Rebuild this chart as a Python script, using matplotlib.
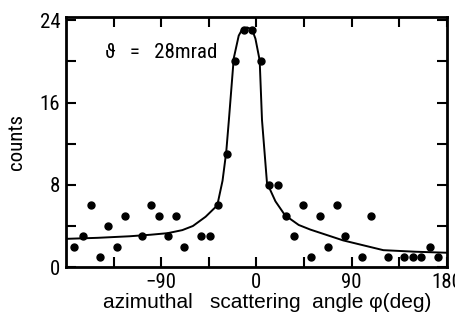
import numpy as np
import matplotlib
matplotlib.use("Agg")
import matplotlib.pyplot as plt
from matplotlib import font_manager

names = {f.name for f in font_manager.fontManager.ttflist}
narrow = [n for n in ['Roboto Condensed', 'DejaVu Sans Condensed', 'Liberation Sans Narrow'] if n in names]
plt.rcParams['font.family'] = narrow + ['DejaVu Sans']

# measured counts per azimuthal bin
phi = [-172, -164, -156, -148, -140, -132, -124, -108, -100, -92, -84, -76,
       -68, -52, -44, -36, -28, -20, -12, -4, 4, 12, 20, 28, 36, 44, 52, 60,
       68, 76, 84, 100, 108, 124, 140, 148, 156, 164, 172]
counts = [2, 3, 6, 1, 4, 2, 5, 3, 6, 5, 3, 5,
          2, 3, 3, 6, 11, 20, 23, 23, 20, 8, 8, 5, 3, 6, 1, 5,
          2, 6, 3, 1, 5, 1, 1, 1, 1, 2, 1]

# fitted curve
fit_phi = [-180, -150, -120, -100, -84, -70, -60, -48, -37, -32, -28.5, -26,
           -21.4, -16.7, -13.5, -8.8, -4.1, -0.9, 3.1, 5.3, 10, 18, 27, 40,
           51, 82, 120, 150, 180]
fit_counts = [2.75, 2.85, 3.0, 3.15, 3.3, 3.6, 4.0, 4.9, 6.0, 8.4, 11.2, 14.3,
              20.3, 22.5, 23.1, 23.3, 23.1, 22.2, 20.1, 14.3, 8.2, 6.4, 5.05, 4.1,
              3.65, 2.6, 1.65, 1.5, 1.4]

fig = plt.figure(figsize=(4.55, 3.29), dpi=100)
ax = fig.add_axes([0.145, 0.188, 0.837, 0.76])

ax.plot(fit_phi, fit_counts, color='black', lw=1.4)
ax.plot(phi, counts, 'o', color='black', ms=5, clip_on=False)

ax.set_xlim(-180, 180)
ax.set_ylim(0, 24.3)
ax.set_xticks([-90, 0, 90, 180])
ax.set_xticks([-135, -45, 45, 135], minor=True)
ax.set_yticks([0, 8, 16, 24])
ax.set_yticks([4, 12, 20], minor=True)
ax.tick_params(which='both', direction='in', top=True, right=True,
               length=7, width=1.5, labelsize=15, pad=4)
for s in ax.spines.values():
    s.set_linewidth(2)

ax.set_xlabel('azimuthal   scattering  angle φ(deg)', fontsize=15,
              family=['Liberation Sans', 'DejaVu Sans'])
ax.xaxis.set_label_coords(0.529, -0.105)
ax.set_ylabel('counts', fontsize=15, labelpad=10)
ax.text(-143, 20.9, 'ϑ   =   28mrad', fontsize=15, va='center')

fig.savefig('out.png', dpi=100)
